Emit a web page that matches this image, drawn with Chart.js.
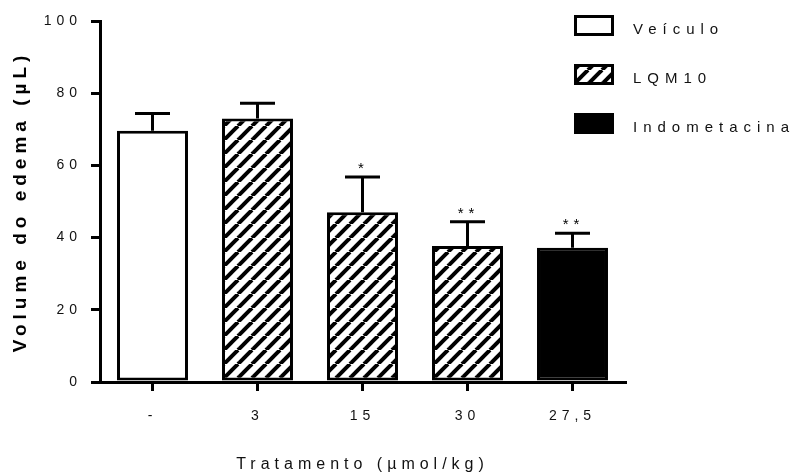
<!DOCTYPE html>
<html>
<head>
<meta charset="utf-8">
<script src="https://cdn.jsdelivr.net/npm/chart.js@4.4.0/dist/chart.umd.min.js"></script>
<style>
  html, body { margin: 0; padding: 0; background: #fff; }
</style>
</head>
<body>
<canvas id="grafico" width="799" height="473"></canvas>
<script>
// dados
const categorias = ['-', '3', '15', '30', '27,5'];
const grupos = ['Veículo', 'LQM10', 'LQM10', 'LQM10', 'Indometacina'];
const medias = [69.6, 73.0, 47.0, 37.7, 37.2];
const erros = [4.8, 4.2, 9.8, 6.7, 4.0];
const significancia = ['', '', '*', '**', '**'];
const legendaItens = ['Veículo', 'LQM10', 'Indometacina'];
const ticksY = [0, 20, 40, 60, 80, 100];

const fonte = '"Liberation Sans", Arial, sans-serif';

function criarHachura() {
    const t = 14;
    const c = document.createElement('canvas');
    c.width = t;
    c.height = t;
    const g = c.getContext('2d');
    g.fillStyle = '#fff';
    g.fillRect(0, 0, t, t);
    g.strokeStyle = '#000';
    g.lineWidth = 4;
    for (const d of [-t, 0, t]) {
        g.beginPath();
        g.moveTo(d, t);
        g.lineTo(d + t, 0);
        g.stroke();
    }
    return g.createPattern(c, 'repeat');
}

const preenchimento = {
    'Veículo': '#fff',
    'LQM10': criarHachura(),
    'Indometacina': '#000',
};

// espaco entre letras, como no original
const espacamento = {
    id: 'espacamento',
    beforeDraw(chart) {
        chart.ctx.letterSpacing = '5px';
    },
};

// barras de erro (so a metade de cima) e asteriscos
const barrasErro = {
    id: 'barrasErro',
    afterDatasetsDraw(chart) {
        const { ctx, scales: { x, y } } = chart;
        ctx.save();
        ctx.strokeStyle = '#000';
        ctx.lineWidth = 3;
        medias.forEach((m, i) => {
            const px = x.getPixelForValue(i);
            const base = y.getPixelForValue(m);
            const topo = y.getPixelForValue(m + erros[i]);
            ctx.beginPath();
            ctx.moveTo(px, base);
            ctx.lineTo(px, topo);
            ctx.moveTo(px - 17.5, topo);
            ctx.lineTo(px + 17.5, topo);
            ctx.stroke();
            if (significancia[i]) {
                ctx.fillStyle = '#000';
                ctx.font = '15px ' + fonte;
                ctx.textAlign = 'center';
                ctx.textBaseline = 'alphabetic';
                ctx.fillText(significancia[i], px + 1, topo - 4);
            }
        });
        ctx.restore();
    },
};

// legenda a direita
const legenda = {
    id: 'legenda',
    afterDraw(chart) {
        const ctx = chart.ctx;
        const x0 = chart.chartArea.right - 51;
        ctx.save();
        legendaItens.forEach((nome, i) => {
            const y0 = chart.chartArea.top - 6 + i * 49;
            ctx.fillStyle = preenchimento[nome];
            ctx.fillRect(x0, y0, 40, 21);
            ctx.strokeStyle = '#000';
            ctx.lineWidth = 3;
            ctx.strokeRect(x0 + 1.5, y0 + 1.5, 37, 18);
            ctx.fillStyle = '#111';
            ctx.font = '15px ' + fonte;
            ctx.letterSpacing = '6px';
            ctx.textAlign = 'left';
            ctx.textBaseline = 'middle';
            ctx.fillText(nome, x0 + 59, y0 + 15);
        });
        ctx.restore();
    },
};

const ctx = document.getElementById('grafico').getContext('2d');

new Chart(ctx, {
    type: 'bar',
    data: {
        labels: categorias,
        datasets: [{
            data: medias,
            backgroundColor: grupos.map(g => preenchimento[g]),
            borderColor: '#000',
            borderWidth: 3,
            borderSkipped: false,
            barPercentage: 0.676,
            categoryPercentage: 1,
        }],
    },
    options: {
        responsive: false,
        animation: false,
        layout: { padding: { top: 21, right: 174, left: 0, bottom: 0 } },
        plugins: {
            legend: { display: false },
            tooltip: { enabled: false },
        },
        scales: {
            x: {
                offset: true,
                grid: { offset: false, drawOnChartArea: false, tickLength: 9, lineWidth: 3, color: '#000' },
                border: { color: '#000', width: 3 },
                ticks: { color: '#111', font: { family: fonte, size: 14 }, padding: 17, maxRotation: 0, autoSkip: false },
                title: {
                    display: true,
                    text: 'Tratamento (µmol/kg)',
                    color: '#111',
                    font: { family: fonte, size: 16, lineHeight: 1 },
                    padding: { top: 0, bottom: 0 },
                },
                afterFit(s) { s.height = 91; },
            },
            y: {
                min: 0,
                max: 100,
                afterBuildTicks(s) { s.ticks = ticksY.map(v => ({ value: v })); },
                grid: { drawOnChartArea: false, tickLength: 9, lineWidth: 3, color: '#000' },
                border: { color: '#000', width: 3 },
                ticks: { color: '#111', font: { family: fonte, size: 14 }, padding: 9 },
                title: {
                    display: true,
                    text: 'Volume do edema (µL)',
                    color: '#000',
                    font: { family: fonte, size: 19, weight: 'bold' },
                    padding: { top: 9, bottom: 0 },
                },
                afterFit(s) { s.width = 100; },
            },
        },
    },
    plugins: [espacamento, barrasErro, legenda],
});
</script>
</body>
</html>
